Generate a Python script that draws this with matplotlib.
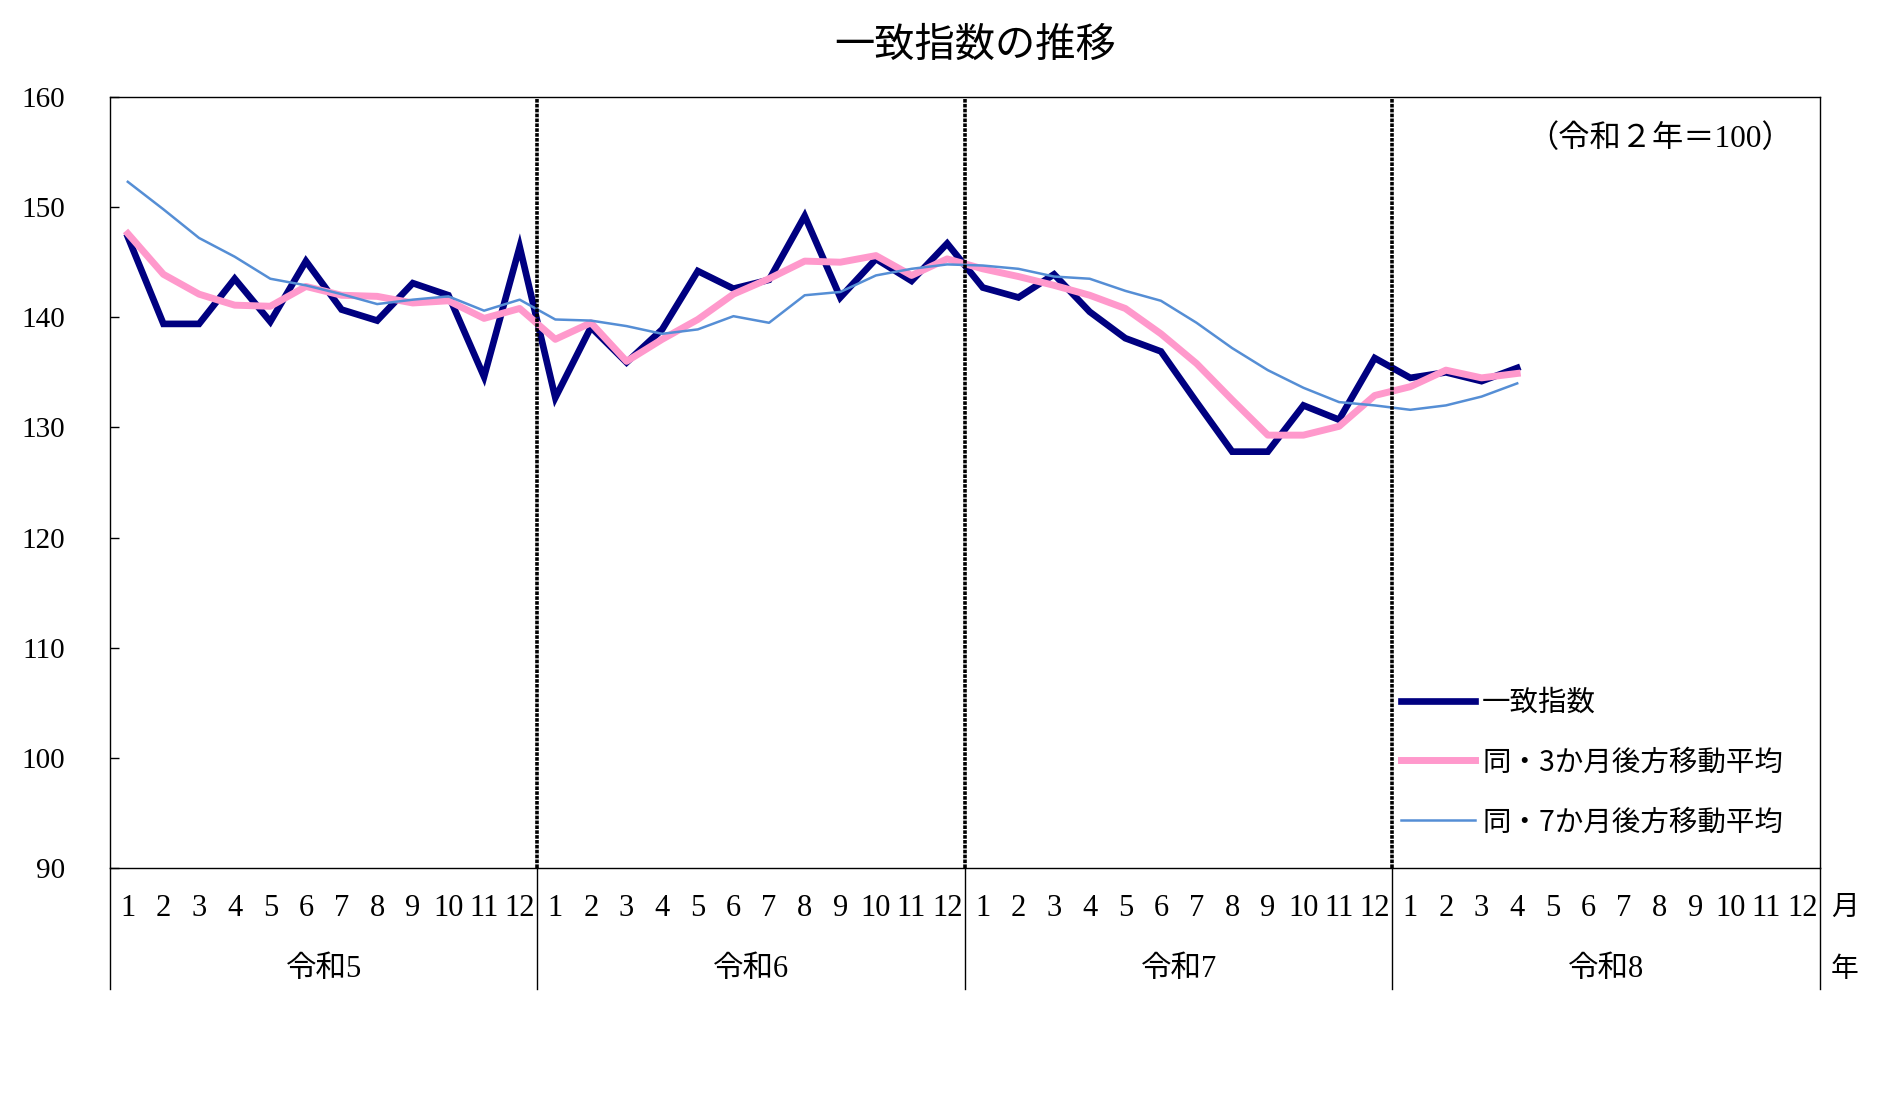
import matplotlib
matplotlib.use('Agg')
import matplotlib.pyplot as plt

# data
years = ['令和5', '令和6', '令和7', '令和8']
months = [str(m) for m in range(1, 13)] * 4

coincident = [147.3, 139.4, 139.4, 143.5, 139.6, 145.1, 140.7, 139.7, 143.1, 142.0, 134.6, 146.4,
              132.7, 139.1, 135.9, 138.9, 144.2, 142.6, 143.4, 149.2, 141.8, 145.3, 143.3, 146.7,
              142.7, 141.8, 143.9, 140.5, 138.1, 136.9, 132.3, 127.8, 127.8, 132.0, 130.7, 136.3,
              134.5, 135.0, 134.2, 135.4]
ma3 = [147.6, 143.9, 142.1, 141.1, 141.0, 142.8, 142.0, 141.9, 141.3, 141.5, 139.9, 140.8,
       138.0, 139.5, 136.0, 138.0, 139.8, 142.1, 143.5, 145.1, 145.0, 145.6, 143.8, 145.3,
       144.4, 143.7, 142.9, 142.0, 140.8, 138.5, 135.8, 132.5, 129.3, 129.3, 130.1, 132.9,
       133.7, 135.2, 134.5, 134.9]
ma7 = [152.3, 149.8, 147.2, 145.5, 143.5, 142.9, 142.1, 141.2, 141.6, 141.9, 140.6, 141.6,
       139.8, 139.7, 139.2, 138.5, 138.9, 140.1, 139.5, 142.0, 142.3, 143.8, 144.4, 144.8,
       144.7, 144.4, 143.7, 143.5, 142.4, 141.5, 139.5, 137.2, 135.2, 133.6, 132.3, 132.0,
       131.6, 132.0, 132.8, 134.0]
labels = ['一致指数', '同・3か月後方移動平均', '同・7か月後方移動平均']

serif = ['Liberation Serif', 'Noto Sans CJK JP']
gothic = ['Noto Sans CJK JP', 'DejaVu Sans']
plt.rcParams['font.family'] = serif

fig = plt.figure(figsize=(18.99, 11.19), dpi=100)
ax = fig.add_axes([110/1899, 251/1119, 1710/1899, 771/1119])

x = list(range(len(coincident)))
ax.plot(x, coincident, color='#000080', lw=4.8, solid_joinstyle='miter', label=labels[0], zorder=3)
ax.plot(x, ma3, color='#FF99CC', lw=5.0, label=labels[1], zorder=4)
ax.plot(x, ma7, color='#558ED5', lw=1.8, label=labels[2], zorder=5)

ax.set_xlim(-0.5, 47.5)
ax.set_ylim(90, 160)
ax.set_yticks(range(90, 161, 10))
ax.tick_params(axis='y', direction='in', length=6.5, width=1, pad=32, labelsize=21)
ax.set_xticks(range(48))
ax.set_xticklabels(months, fontsize=22)
ax.tick_params(axis='x', length=0, pad=19)
for s in ax.spines.values():
    s.set_linewidth(1.0)

# year separators
tr = ax.get_xaxis_transform()
for k in range(1, 4):
    ax.axvline(12*k - 0.5, color='black', lw=2.6, ls=(0, (1.0, 0.35)), zorder=6)
for k in range(5):
    ax.plot([12*k - 0.5]*2, [0, -0.157], color='black', lw=1.0, transform=tr, clip_on=False)
for k, yr in enumerate(years):
    ax.text(12*k + 5.5, -0.132, yr, transform=tr, ha='center', va='center', fontsize=22)
ax.text(1.0145, -0.052, '月', transform=ax.transAxes, ha='center', va='center', fontsize=20)
ax.text(1.0145, -0.132, '年', transform=ax.transAxes, ha='center', va='center', fontsize=20)

ax.text(0.984, 0.945, '（令和２年＝100）', transform=ax.transAxes, ha='right', va='center', fontsize=22.5)

leg = ax.legend(loc='center left', bbox_to_anchor=(0.755, 0.137), frameon=False,
                prop={'family': gothic, 'size': 20.5}, handlelength=2.6, handletextpad=0.25,
                labelspacing=1.05, borderpad=0, borderaxespad=0)

fig.text(975/1899, 1 - 45/1119, '一致指数の推移', ha='center', va='center', fontsize=29, family=gothic)

fig.savefig('out.png', dpi=100)
